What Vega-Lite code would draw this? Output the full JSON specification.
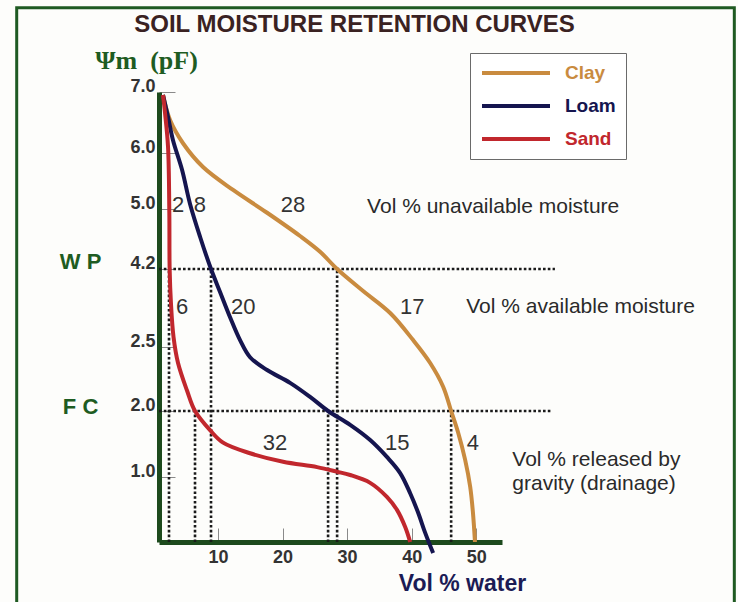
{
  "$schema": "https://vega.github.io/schema/vega-lite/v6.json",
  "autosize": {"type": "none"},
  "padding": {"left": 159, "top": 88, "right": 236, "bottom": 60},
  "width": 343,
  "height": 454,
  "background": "#fdfdfb",
  "title": {
    "text": "SOIL MOISTURE RETENTION CURVES",
    "frame": "group",
    "anchor": "middle",
    "dx": 24,
    "dy": 31,
    "offset": 0,
    "font": "Liberation Sans",
    "fontSize": 24,
    "fontWeight": "bold",
    "color": "#3a2222"
  },
  "config": {
    "view": {"stroke": null},
    "font": "Liberation Sans"
  },
  "datasets": {
    "frame": [{"x": -21.2, "x2": 90, "y": -1.3, "y2": 8.38}],
    "refs": [
      {"x": 0.85, "x2": 62.2, "y": 4.2, "y2": 4.2},
      {"x": 0.85, "x2": 61.8, "y": 2.0, "y2": 2.0},
      {"x": 2.4, "x2": 2.4, "y": 0, "y2": 4.2},
      {"x": 6.43, "x2": 6.43, "y": 0, "y2": 2.0},
      {"x": 8.91, "x2": 8.91, "y": 0, "y2": 4.2},
      {"x": 27.05, "x2": 27.05, "y": 0, "y2": 2.0},
      {"x": 28.45, "x2": 28.45, "y": 0, "y2": 4.2},
      {"x": 46.12, "x2": 46.12, "y": 0, "y2": 2.0}
    ],
    "curves": [
      {"soil": "Clay", "o": 1, "x": 1.47, "y": 6.95},
      {"soil": "Clay", "o": 2, "x": 2.56, "y": 6.54},
      {"soil": "Clay", "o": 3, "x": 4.57, "y": 6.16},
      {"soil": "Clay", "o": 4, "x": 7.67, "y": 5.75},
      {"soil": "Clay", "o": 5, "x": 12.33, "y": 5.34},
      {"soil": "Clay", "o": 6, "x": 17.6, "y": 4.95},
      {"soil": "Clay", "o": 7, "x": 22.71, "y": 4.64},
      {"soil": "Clay", "o": 8, "x": 25.81, "y": 4.43},
      {"soil": "Clay", "o": 9, "x": 28.45, "y": 4.2},
      {"soil": "Clay", "o": 10, "x": 32.48, "y": 3.72},
      {"soil": "Clay", "o": 11, "x": 36.67, "y": 3.24},
      {"soil": "Clay", "o": 12, "x": 40.23, "y": 2.65},
      {"soil": "Clay", "o": 13, "x": 42.87, "y": 2.375},
      {"soil": "Clay", "o": 14, "x": 44.88, "y": 2.19},
      {"soil": "Clay", "o": 15, "x": 46.12, "y": 2.0},
      {"soil": "Clay", "o": 16, "x": 47.21, "y": 1.67},
      {"soil": "Clay", "o": 17, "x": 48.29, "y": 1.26},
      {"soil": "Clay", "o": 18, "x": 49.07, "y": 0.85},
      {"soil": "Clay", "o": 19, "x": 49.5, "y": 0.45},
      {"soil": "Clay", "o": 20, "x": 49.81, "y": 0.0},
      {"soil": "Loam", "o": 1, "x": 1.47, "y": 6.95},
      {"soil": "Loam", "o": 2, "x": 2.25, "y": 6.59},
      {"soil": "Loam", "o": 3, "x": 3.02, "y": 6.21},
      {"soil": "Loam", "o": 4, "x": 4.42, "y": 5.7},
      {"soil": "Loam", "o": 5, "x": 5.66, "y": 5.09},
      {"soil": "Loam", "o": 6, "x": 7.21, "y": 4.63},
      {"soil": "Loam", "o": 7, "x": 8.91, "y": 4.2},
      {"soil": "Loam", "o": 8, "x": 10.31, "y": 3.7},
      {"soil": "Loam", "o": 9, "x": 11.86, "y": 3.15},
      {"soil": "Loam", "o": 10, "x": 13.41, "y": 2.65},
      {"soil": "Loam", "o": 11, "x": 14.96, "y": 2.42},
      {"soil": "Loam", "o": 12, "x": 17.6, "y": 2.32},
      {"soil": "Loam", "o": 13, "x": 21.16, "y": 2.22},
      {"soil": "Loam", "o": 14, "x": 24.26, "y": 2.11},
      {"soil": "Loam", "o": 15, "x": 27.05, "y": 2.0},
      {"soil": "Loam", "o": 16, "x": 30.47, "y": 1.79},
      {"soil": "Loam", "o": 17, "x": 33.57, "y": 1.56},
      {"soil": "Loam", "o": 18, "x": 36.2, "y": 1.3},
      {"soil": "Loam", "o": 19, "x": 38.22, "y": 1.06},
      {"soil": "Loam", "o": 20, "x": 39.77, "y": 0.75},
      {"soil": "Loam", "o": 21, "x": 41.01, "y": 0.45},
      {"soil": "Loam", "o": 22, "x": 42.1, "y": 0.14},
      {"soil": "Loam", "o": 23, "x": 43.33, "y": -0.17},
      {"soil": "Sand", "o": 1, "x": 1.47, "y": 6.95},
      {"soil": "Sand", "o": 2, "x": 1.78, "y": 6.66},
      {"soil": "Sand", "o": 3, "x": 2.25, "y": 6.1},
      {"soil": "Sand", "o": 4, "x": 2.45, "y": 4.95},
      {"soil": "Sand", "o": 5, "x": 2.5, "y": 4.2},
      {"soil": "Sand", "o": 6, "x": 2.7, "y": 3.46},
      {"soil": "Sand", "o": 7, "x": 3.1, "y": 2.72},
      {"soil": "Sand", "o": 8, "x": 3.8, "y": 2.375},
      {"soil": "Sand", "o": 9, "x": 5.19, "y": 2.16},
      {"soil": "Sand", "o": 10, "x": 6.43, "y": 2.0},
      {"soil": "Sand", "o": 11, "x": 8.76, "y": 1.71},
      {"soil": "Sand", "o": 12, "x": 10.78, "y": 1.52},
      {"soil": "Sand", "o": 13, "x": 14.96, "y": 1.36},
      {"soil": "Sand", "o": 14, "x": 20.08, "y": 1.23},
      {"soil": "Sand", "o": 15, "x": 25.35, "y": 1.15},
      {"soil": "Sand", "o": 16, "x": 28.45, "y": 1.08},
      {"soil": "Sand", "o": 17, "x": 30.47, "y": 1.03},
      {"soil": "Sand", "o": 18, "x": 33.57, "y": 0.91},
      {"soil": "Sand", "o": 19, "x": 36.2, "y": 0.69},
      {"soil": "Sand", "o": 20, "x": 37.75, "y": 0.49},
      {"soil": "Sand", "o": 21, "x": 39.0, "y": 0.23},
      {"soil": "Sand", "o": 22, "x": 39.77, "y": 0.0}
    ],
    "numbers": [
      {"x": 3.8, "y": 5.07, "label": "2"},
      {"x": 7.2, "y": 5.07, "label": "8"},
      {"x": 21.6, "y": 5.07, "label": "28"},
      {"x": 4.42, "y": 3.37, "label": "6"},
      {"x": 13.9, "y": 3.37, "label": "20"},
      {"x": 40.1, "y": 3.37, "label": "17"},
      {"x": 18.84, "y": 1.52, "label": "32"},
      {"x": 37.75, "y": 1.52, "label": "15"},
      {"x": 49.5, "y": 1.52, "label": "4"}
    ],
    "notes": [
      {"x": 33.1, "y": 5.04, "label": "Vol % unavailable moisture"},
      {"x": 48.45, "y": 3.37, "label": "Vol % available moisture"},
      {"x": 55.6, "y": 1.26, "label": "Vol % released by\ngravity (drainage)"}
    ],
    "levels": [
      {"x": -11.3, "y": 4.29, "label": "W P"},
      {"x": -11.3, "y": 2.03, "label": "F C"}
    ]
  },
  "encoding": {
    "x": {
      "field": "x",
      "type": "quantitative",
      "scale": {"domain": [0.85, 54], "nice": false, "zero": false},
      "axis": {
        "values": [10, 20, 30, 40, 50],
        "grid": false,
        "domainColor": "#1d4a1d",
        "domainWidth": 5,
        "tickColor": "#8a8a8a",
        "tickWidth": 1,
        "tickSize": -14,
        "labelFont": "Liberation Sans",
        "labelFontSize": 18,
        "labelFontWeight": "bold",
        "labelColor": "#333333",
        "labelPadding": 20,
        "title": "Vol % water",
        "titleFont": "Liberation Sans",
        "titleFontSize": 23,
        "titleFontWeight": "bold",
        "titleColor": "#1b1b55",
        "titleX": 303,
        "titleY": 41,
        "titleAlign": "center",
        "titleBaseline": "middle"
      }
    },
    "y": {
      "field": "y",
      "type": "quantitative",
      "scale": {
        "domain": [0, 1, 2, 2.5, 4.2, 5, 6, 7],
        "range": [454, 389, 323, 259, 181, 121, 65, 4],
        "nice": false,
        "zero": false
      },
      "axis": {
        "values": [1, 2, 2.5, 4.2, 5, 6, 7],
        "format": ".1f",
        "grid": false,
        "domainColor": "#1d4a1d",
        "domainWidth": 5,
        "tickColor": "#8a8a8a",
        "tickWidth": 1,
        "tickSize": -16,
        "labelFont": "Liberation Sans",
        "labelFontSize": 18,
        "labelFontWeight": "bold",
        "labelColor": "#333333",
        "labelPadding": 20,
        "labelOffset": -6,
        "title": "Ψm\u00a0\u00a0(pF)",
        "titleFont": "Liberation Serif",
        "titleFontSize": 26,
        "titleFontWeight": "bold",
        "titleColor": "#1e5c22",
        "titleAngle": 0,
        "titleX": -13,
        "titleY": -28,
        "titleAlign": "center",
        "titleBaseline": "middle"
      }
    }
  },
  "layer": [
    {
      "data": {"name": "frame"},
      "mark": {"type": "rect", "fill": null, "stroke": "#1f5a22", "strokeWidth": 3},
      "encoding": {"x2": {"field": "x2"}, "y2": {"field": "y2"}}
    },
    {
      "data": {"name": "refs"},
      "mark": {"type": "rule", "color": "#1a1a1a", "strokeWidth": 2.6, "strokeDash": [2.6, 2.2]},
      "encoding": {"x2": {"field": "x2"}, "y2": {"field": "y2"}}
    },
    {
      "data": {"name": "curves"},
      "mark": {"type": "line", "strokeWidth": 4, "interpolate": "catmull-rom"},
      "encoding": {
        "order": {"field": "o", "type": "quantitative"},
        "color": {
          "field": "soil",
          "type": "nominal",
          "scale": {"domain": ["Clay", "Loam", "Sand"], "range": ["#c98b3f", "#15154f", "#c1272d"]},
          "legend": {
            "title": null,
            "orient": "none",
            "legendX": 311,
            "legendY": -35,
            "direction": "vertical",
            "symbolType": "stroke",
            "symbolSize": 4624,
            "symbolStrokeWidth": 4,
            "clipHeight": 20,
            "rowPadding": 13,
            "padding": 10,
            "labelOffset": 13,
            "labelFont": "Liberation Sans",
            "labelFontSize": 19,
            "labelFontWeight": "bold",
            "strokeColor": "#6a6a6a",
            "fillColor": "#ffffff",
            "cornerRadius": 0,
            "encode": {"labels": {"update": {"fill": {"scale": "color", "field": "value"}}}}
          }
        }
      }
    },
    {
      "data": {"name": "numbers"},
      "mark": {"type": "text", "font": "Liberation Sans", "fontSize": 22, "color": "#333333", "align": "center", "baseline": "middle"},
      "encoding": {"text": {"field": "label"}}
    },
    {
      "data": {"name": "notes"},
      "mark": {"type": "text", "font": "Liberation Sans", "fontSize": 21, "color": "#2a2a2a", "align": "left", "baseline": "middle", "lineBreak": "\n", "lineHeight": 24},
      "encoding": {"text": {"field": "label"}}
    },
    {
      "data": {"name": "levels"},
      "mark": {"type": "text", "font": "Liberation Sans", "fontSize": 22, "fontWeight": "bold", "color": "#1e5c22", "align": "center", "baseline": "middle"},
      "encoding": {"text": {"field": "label"}}
    }
  ]
}
